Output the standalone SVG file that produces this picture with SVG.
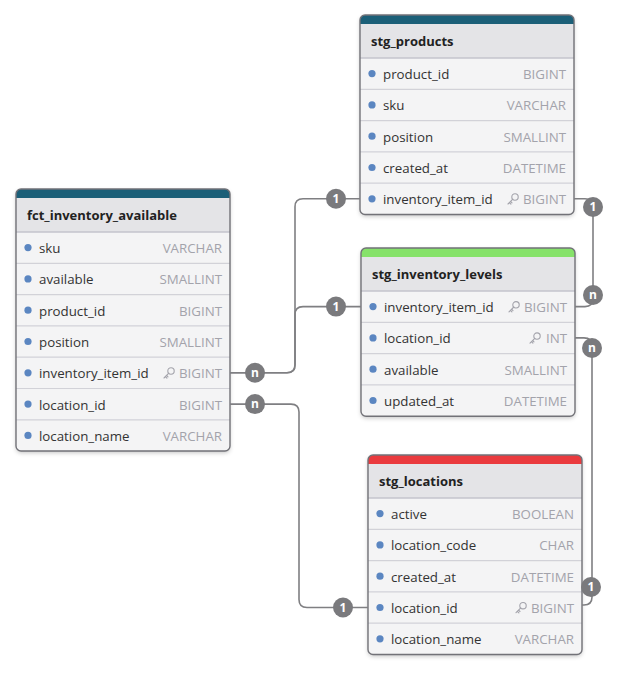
<svg xmlns="http://www.w3.org/2000/svg" width="619" height="674" viewBox="0 0 619 674">
  <defs>
    <filter id="shadow" x="-10%" y="-10%" width="120%" height="120%">
      <feDropShadow dx="0" dy="2" stdDeviation="2" flood-color="#000" flood-opacity="0.22"/>
    </filter>
    <!-- key glyph for key columns, 12x12 -->
    <g id="key">
      <circle cx="8" cy="4" r="3.2" fill="none" stroke="#a3a3ab" stroke-width="1.1"/>
      <path d="M5.8,6.2 L1,11 M2.4,9.6 L3.9,11.1 M3.6,8.4 L5,9.8" fill="none" stroke="#a3a3ab" stroke-width="1.1" stroke-linecap="round"/>
    </g>
  </defs>
  <style>
    .card { fill: #f4f4f5; }
    .head { fill: #e4e4e7; }
    .outline { fill: none; stroke: #727278; stroke-width: 1.4; }
    .hsep { stroke: #c4c4cc; stroke-width: 1.6; }
    .rsep { stroke: #d2d2d8; stroke-width: 1.2; }
    .title { font-family: "Open Sans", "Noto Sans", sans-serif; font-size: 13px; font-weight: 700; fill: #222; }
    .name { font-family: "Open Sans", "Noto Sans", sans-serif; font-size: 13.3px; fill: #333; }
    .type { font-family: "Open Sans", "Noto Sans", sans-serif; font-size: 13.3px; fill: #a3a3ab; text-anchor: end; }
    .dot { fill: #5b86c1; }
    .edge { fill: none; stroke: #7f7f82; stroke-width: 1.6; }
    .badge { fill: #7a7a7d; }
    .blabel { font-family: "Open Sans", "Noto Sans", sans-serif; font-size: 12px; font-weight: 700; fill: #fff; text-anchor: middle; }
  </style>

  <!-- fct_inventory_available -->
  <g id="fct_inventory_available" transform="translate(16,189)">
    <rect class="card" x="0" y="0" width="214" height="262" rx="5" filter="url(#shadow)"/>
    <rect class="head" x="0" y="9" width="214" height="34"/>
    <path d="M0,9 V5 Q0,0 5,0 H209 Q214,0 214,5 V9 Z" fill="#1b5f78"/>
    <line class="hsep" x1="0" y1="43" x2="214" y2="43"/>
    <line class="rsep" x1="0" y1="74.3" x2="214" y2="74.3"/>
    <line class="rsep" x1="0" y1="105.6" x2="214" y2="105.6"/>
    <line class="rsep" x1="0" y1="136.9" x2="214" y2="136.9"/>
    <line class="rsep" x1="0" y1="168.2" x2="214" y2="168.2"/>
    <line class="rsep" x1="0" y1="199.5" x2="214" y2="199.5"/>
    <line class="rsep" x1="0" y1="230.8" x2="214" y2="230.8"/>
    <rect class="outline" x="0" y="0" width="214" height="262" rx="5"/>
    <text class="title" x="11" y="31">fct_inventory_available</text>
    <circle class="dot" cx="12" cy="58.6" r="3.6"/><text class="name" x="23" y="64">sku</text><text class="type" x="206" y="64">VARCHAR</text>
    <circle class="dot" cx="12" cy="89.9" r="3.6"/><text class="name" x="23" y="95.3">available</text><text class="type" x="206" y="95.3">SMALLINT</text>
    <circle class="dot" cx="12" cy="121.2" r="3.6"/><text class="name" x="23" y="126.6">product_id</text><text class="type" x="206" y="126.6">BIGINT</text>
    <circle class="dot" cx="12" cy="152.5" r="3.6"/><text class="name" x="23" y="157.9">position</text><text class="type" x="206" y="157.9">SMALLINT</text>
    <circle class="dot" cx="12" cy="183.8" r="3.6"/><text class="name" x="23" y="189.2">inventory_item_id</text><use href="#key" x="147" y="178"/><text class="type" x="206" y="189.2">BIGINT</text>
    <circle class="dot" cx="12" cy="215.1" r="3.6"/><text class="name" x="23" y="220.5">location_id</text><text class="type" x="206" y="220.5">BIGINT</text>
    <circle class="dot" cx="12" cy="246.4" r="3.6"/><text class="name" x="23" y="251.8">location_name</text><text class="type" x="206" y="251.8">VARCHAR</text>
  </g>

  <!-- stg_products -->
  <g id="stg_products" transform="translate(360,15)">
    <rect class="card" x="0" y="0" width="214" height="199.5" rx="5" filter="url(#shadow)"/>
    <rect class="head" x="0" y="9" width="214" height="34"/>
    <path d="M0,9 V5 Q0,0 5,0 H209 Q214,0 214,5 V9 Z" fill="#1b5f78"/>
    <line class="hsep" x1="0" y1="43" x2="214" y2="43"/>
    <line class="rsep" x1="0" y1="74.3" x2="214" y2="74.3"/>
    <line class="rsep" x1="0" y1="105.6" x2="214" y2="105.6"/>
    <line class="rsep" x1="0" y1="136.9" x2="214" y2="136.9"/>
    <line class="rsep" x1="0" y1="168.2" x2="214" y2="168.2"/>
    <rect class="outline" x="0" y="0" width="214" height="199.5" rx="5"/>
    <text class="title" x="11" y="31">stg_products</text>
    <circle class="dot" cx="12" cy="58.6" r="3.6"/><text class="name" x="23" y="64">product_id</text><text class="type" x="206" y="64">BIGINT</text>
    <circle class="dot" cx="12" cy="89.9" r="3.6"/><text class="name" x="23" y="95.3">sku</text><text class="type" x="206" y="95.3">VARCHAR</text>
    <circle class="dot" cx="12" cy="121.2" r="3.6"/><text class="name" x="23" y="126.6">position</text><text class="type" x="206" y="126.6">SMALLINT</text>
    <circle class="dot" cx="12" cy="152.5" r="3.6"/><text class="name" x="23" y="157.9">created_at</text><text class="type" x="206" y="157.9">DATETIME</text>
    <circle class="dot" cx="12" cy="183.8" r="3.6"/><text class="name" x="23" y="189.2">inventory_item_id</text><use href="#key" x="147" y="178"/><text class="type" x="206" y="189.2">BIGINT</text>
  </g>

  <!-- stg_inventory_levels -->
  <g id="stg_inventory_levels" transform="translate(361,248)">
    <rect class="card" x="0" y="0" width="214" height="168.2" rx="5" filter="url(#shadow)"/>
    <rect class="head" x="0" y="9" width="214" height="34"/>
    <path d="M0,9 V5 Q0,0 5,0 H209 Q214,0 214,5 V9 Z" fill="#86e26a"/>
    <line class="hsep" x1="0" y1="43" x2="214" y2="43"/>
    <line class="rsep" x1="0" y1="74.3" x2="214" y2="74.3"/>
    <line class="rsep" x1="0" y1="105.6" x2="214" y2="105.6"/>
    <line class="rsep" x1="0" y1="136.9" x2="214" y2="136.9"/>
    <rect class="outline" x="0" y="0" width="214" height="168.2" rx="5"/>
    <text class="title" x="11" y="31">stg_inventory_levels</text>
    <circle class="dot" cx="12" cy="58.6" r="3.6"/><text class="name" x="23" y="64">inventory_item_id</text><use href="#key" x="147" y="52.8"/><text class="type" x="206" y="64">BIGINT</text>
    <circle class="dot" cx="12" cy="89.9" r="3.6"/><text class="name" x="23" y="95.3">location_id</text><use href="#key" x="168" y="84.1"/><text class="type" x="206" y="95.3">INT</text>
    <circle class="dot" cx="12" cy="121.2" r="3.6"/><text class="name" x="23" y="126.6">available</text><text class="type" x="206" y="126.6">SMALLINT</text>
    <circle class="dot" cx="12" cy="152.5" r="3.6"/><text class="name" x="23" y="157.9">updated_at</text><text class="type" x="206" y="157.9">DATETIME</text>
  </g>

  <!-- stg_locations -->
  <g id="stg_locations" transform="translate(368,455)">
    <rect class="card" x="0" y="0" width="214" height="199.5" rx="5" filter="url(#shadow)"/>
    <rect class="head" x="0" y="9" width="214" height="34"/>
    <path d="M0,9 V5 Q0,0 5,0 H209 Q214,0 214,5 V9 Z" fill="#ea3a3e"/>
    <line class="hsep" x1="0" y1="43" x2="214" y2="43"/>
    <line class="rsep" x1="0" y1="74.3" x2="214" y2="74.3"/>
    <line class="rsep" x1="0" y1="105.6" x2="214" y2="105.6"/>
    <line class="rsep" x1="0" y1="136.9" x2="214" y2="136.9"/>
    <line class="rsep" x1="0" y1="168.2" x2="214" y2="168.2"/>
    <rect class="outline" x="0" y="0" width="214" height="199.5" rx="5"/>
    <text class="title" x="11" y="31">stg_locations</text>
    <circle class="dot" cx="12" cy="58.6" r="3.6"/><text class="name" x="23" y="64">active</text><text class="type" x="206" y="64">BOOLEAN</text>
    <circle class="dot" cx="12" cy="89.9" r="3.6"/><text class="name" x="23" y="95.3">location_code</text><text class="type" x="206" y="95.3">CHAR</text>
    <circle class="dot" cx="12" cy="121.2" r="3.6"/><text class="name" x="23" y="126.6">created_at</text><text class="type" x="206" y="126.6">DATETIME</text>
    <circle class="dot" cx="12" cy="152.5" r="3.6"/><text class="name" x="23" y="157.9">location_id</text><use href="#key" x="147" y="146.7"/><text class="type" x="206" y="157.9">BIGINT</text>
    <circle class="dot" cx="12" cy="183.8" r="3.6"/><text class="name" x="23" y="189.2">location_name</text><text class="type" x="206" y="189.2">VARCHAR</text>
  </g>

  <!-- relationships -->
  <g id="connectors">
    <path class="edge" d="M230,372.8 H287 Q295,372.8 295,364.8 V206.8 Q295,198.8 303,198.8 H360"/>
    <path class="edge" d="M230,372.8 H287 Q295,372.8 295,364.8 V314.6 Q295,306.6 303,306.6 H361"/>
    <path class="edge" d="M230,404.1 H291 Q299,404.1 299,412.1 V599.5 Q299,607.5 307,607.5 H368"/>
    <path class="edge" d="M574,198.8 H585 Q593,198.8 593,206.8 V298.6 Q593,306.6 585,306.6 H575"/>
    <path class="edge" d="M575,337.9 H584 Q592,337.9 592,345.9 V597 Q592,605 584,605 H582"/>

    <circle class="badge" cx="255" cy="372.8" r="10"/><text class="blabel" x="255" y="377">n</text>
    <circle class="badge" cx="336" cy="198.8" r="10"/><text class="blabel" x="336" y="203">1</text>
    <circle class="badge" cx="336" cy="306.6" r="10"/><text class="blabel" x="336" y="310.8">1</text>
    <circle class="badge" cx="255" cy="404.1" r="10"/><text class="blabel" x="255" y="408.3">n</text>
    <circle class="badge" cx="343" cy="607.5" r="10"/><text class="blabel" x="343" y="611.7">1</text>
    <circle class="badge" cx="593" cy="207" r="10"/><text class="blabel" x="593" y="211.2">1</text>
    <circle class="badge" cx="593" cy="295" r="10"/><text class="blabel" x="593" y="299.2">n</text>
    <circle class="badge" cx="592" cy="348" r="10"/><text class="blabel" x="592" y="352.2">n</text>
    <circle class="badge" cx="591" cy="587" r="10"/><text class="blabel" x="591" y="591.2">1</text>
  </g>
</svg>
